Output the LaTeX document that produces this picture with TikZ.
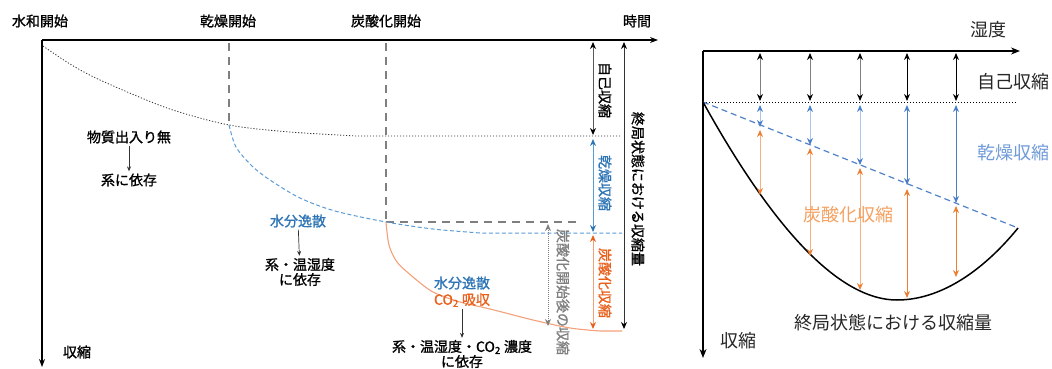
\documentclass[tikz,border=0pt]{standalone}
\usepackage{fontspec}
\setmainfont{Noto Sans CJK JP}
\newfontfamily\jpb[FakeBold=1.2]{Noto Sans CJK JP}
\usetikzlibrary{arrows.meta}
\definecolor{dgray}{HTML}{7F7F7F}
\definecolor{lblue}{HTML}{5B9BD5}
\definecolor{tblue}{HTML}{2E75B6}
\definecolor{lorange}{HTML}{F4A07A}
\definecolor{torange}{HTML}{E8601C}
\definecolor{rblue}{HTML}{4A7EC8}
\definecolor{rlblue}{HTML}{A9C6EA}
\definecolor{rorange}{HTML}{ED7D31}
\definecolor{rlorange}{HTML}{F4B183}
\definecolor{rtblue}{HTML}{6F9BD8}
\definecolor{rtorange}{HTML}{F4A060}
\begin{document}
\begin{tikzpicture}[x=1pt,y=-1pt,
  lbl/.style={font=\jpb\fontsize{14}{15}\selectfont, inner sep=2pt, align=center},
  rlbl/.style={font=\fontsize{18}{20}\selectfont, inner sep=0pt, text=black!85},
  axis/.style={line width=1.1pt, -{Stealth[length=8pt,width=6pt]}},
  dbl/.style={line width=1pt, {Stealth[length=7pt,width=6pt,color=#1]}-{Stealth[length=7pt,width=6pt,color=#1]}},
  gdash/.style={dgray, line width=1.4pt, dash pattern=on 8pt off 6pt},
  smallarrow/.style={black!80, line width=0.7pt, -{Stealth[length=5pt,width=4pt]}},
]
\useasboundingbox (0,0) rectangle (1052,369);

% ---------------- left diagram ----------------
\coordinate (O) at (42,40);
\coordinate (Tend) at (658,40);
\coordinate (Send) at (42,367);
\draw[axis] (O) -- (Tend);
\draw[axis] (O) -- (Send);

\node[lbl] (t1) at (40,21) {水和開始};
\node[lbl] (t2) at (228,21) {乾燥開始};
\node[lbl] (t3) at (386,21) {炭酸化開始};
\node[lbl] (t4) at (637,21) {時間};
\node[lbl] (t5) at (77,352) {収縮};

\coordinate (D1a) at (229,43); \coordinate (D1b) at (229,125);
\coordinate (D2a) at (386,43); \coordinate (D2b) at (386,222);
\coordinate (D2c) at (578,222);
\draw[gdash] (D1a) -- (D1b);
\draw[gdash] (D2a) -- (D2b);
\draw[gdash] (D2b) -- (D2c);

% curves
\draw[black!80, line width=0.8pt, dash pattern=on 1.2pt off 1.8pt]
  plot[smooth] coordinates {(43,46) (70,64) (100,80) (167,108) (229,125) (290,132) (357,136)} -- (622,136);
\draw[lblue, line width=1pt, dash pattern=on 4pt off 2.5pt]
  plot[smooth] coordinates {(229,125) (236,147) (252,166) (270,180) (300,198) (335,211) (386,222) (433,229) (480,233)} -- (622,233);
\draw[lorange, line width=1.1pt]
  plot[smooth] coordinates {(386,222) (389,245) (397,262) (413,277) (433,292) (460,302) (490,309) (533,320) (570,328) (600,331)} -- (622,331);

% measurement arrows
\coordinate (A1) at (593,42);  \coordinate (A2) at (593,135);
\coordinate (B1) at (593,139); \coordinate (B2) at (593,232);
\coordinate (C1) at (593,235); \coordinate (C2) at (593,329);
\coordinate (E1) at (624,42);  \coordinate (E2) at (624,329);
\coordinate (G1) at (548,224); \coordinate (G2) at (548,326);
\draw[dbl=black, black!65] (A1) -- (A2);
\draw[dbl=tblue, lblue] (B1) -- (B2);
\draw[dbl=torange, lorange] (C1) -- (C2);
\draw[dbl=black, black!80] (E1) -- (E2);
\draw[dbl=dgray, dgray, densely dotted] (G1) -- (G2);

\node[lbl, rotate=-90] (m1) at (605,90) {自己収縮};
\node[lbl, rotate=-90, text=tblue] (m2) at (605,183) {乾燥収縮};
\node[lbl, rotate=-90, text=torange] (m3) at (605,283) {炭酸化収縮};
\node[lbl, rotate=-90] (m4) at (638,189) {終局状態における収縮量};
\node[lbl, rotate=-90, text=dgray] (m5) at (563,292) {炭酸化開始後の収縮};

% explanation labels
\node[lbl] (a1) at (129,137) {物質出入り無};
\node[lbl] (a2) at (129,180) {系に依存};
\draw[smallarrow] (a1) -- (a2);

\node[lbl, text=tblue] (b1) at (298,221) {水分逸散};
\node[lbl] (b2) at (300,272) {系・温湿度\\に依存};
\draw[smallarrow] (b1) -- (b2);

\node[lbl, text=tblue] (c1) at (462,283) {水分逸散};
\node[lbl, text=torange] (c2) at (462,300) {CO\textsubscript{2} 吸収};
\node[lbl] (c3) at (462,354) {系・温湿度・CO\textsubscript{2} 濃度\\に依存};
\draw[smallarrow] (c2) -- (c3);

% ---------------- right diagram ----------------
\coordinate (RO) at (703,51);
\coordinate (RT) at (1020,51);
\coordinate (RS) at (703,358);
\coordinate (RP) at (703,102);
\coordinate (RQ) at (1017,102);
\coordinate (RD) at (1018,228);
\coordinate (RM) at (897,300);
\draw[line width=1.3pt, -{Stealth[length=9pt,width=7pt]}] (RO) -- (RT);
\draw[line width=1.3pt, -{Stealth[length=9pt,width=7pt]}] (RO) -- (RS);
\draw[black, line width=1pt, dash pattern=on 1pt off 2pt] (RP) -- (RQ);
\draw[rblue, line width=1.2pt, dash pattern=on 6pt off 4pt] (RP) -- (RD);
\draw[black, line width=1.5pt]
  (RP) .. controls (760,205) and (830,300) .. (RM)
       .. controls (945,300) and (988,265) .. (RD);

\foreach \i/\x/\bb/\ot/\ob/\kc/\bc/\oc in {
  1/760/127/130/195/dgray/rlblue/rlorange,
  2/810/145/148/256/dgray/rlblue/rlorange,
  3/860/165/168/290/dgray/rlblue/rlorange,
  4/907/185/189/298/black/rblue/rorange,
  5/956/203/206/277/black/rblue/rorange} {
  \coordinate (k\i a) at (\x,53);
  \coordinate (k\i b) at (\x,101);
  \coordinate (k\i c) at (\x,105);
  \coordinate (k\i d) at (\x,\bb);
  \coordinate (k\i e) at (\x,\ot);
  \coordinate (k\i f) at (\x,\ob);
  \draw[dbl=black, \kc] (k\i a) -- (k\i b);
  \draw[dbl=rblue, \bc] (k\i c) -- (k\i d);
  \draw[dbl=rorange, \oc] (k\i e) -- (k\i f);
}

\node[rlbl] (r1) at (988,30) {湿度};
\node[rlbl] (r2) at (1013,82) {自己収縮};
\node[rlbl, text=rtblue] (r3) at (1013,153) {乾燥収縮};
\node[rlbl, text=rtorange] (r4) at (848,215) {炭酸化収縮};
\node[rlbl] (r5) at (893,323) {終局状態における収縮量};
\node[rlbl] (r6) at (738,341) {収縮};
\end{tikzpicture}
\end{document}
